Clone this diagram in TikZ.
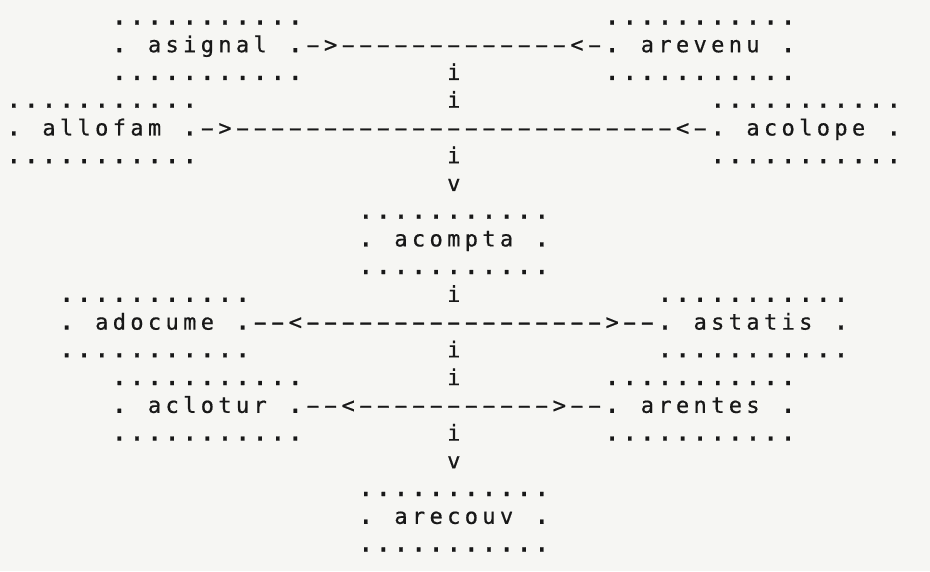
\documentclass[tikz,border=0pt]{standalone}
\usepackage{fontspec}
\usepackage{graphicx}
\newfontfamily\typewr[FakeBold=0.6]{DejaVu Sans Mono}
\definecolor{paper}{RGB}{246,246,243}
\definecolor{ink}{RGB}{24,24,24}
\newlength\cw \setlength\cw{17.6pt}
\makeatletter
\def\gr@end{GR@END}
\def\gr#1{\gr@#1\gr@end}
\def\gr@#1{\ifx#1\gr@end\expandafter\@gobble\else\expandafter\@firstofone\fi{\gr@cell{#1}\gr@}}
\def\gr@cell#1{\makebox[\cw]{%
  \ifx_#1\else
  \ifx-#1\makebox[0pt]{\scalebox{1.9}[1]{-}}\else
  \ifx.#1\scalebox{1.25}{.}\else
  #1\fi\fi\fi}}
\makeatother
\newcommand\bx[1]{\vbox{\baselineskip=27.74pt\lineskiplimit=-100pt
  \hbox{\gr{...........}}\hbox{\gr{._#1_.}}\hbox{\gr{...........}}}}
\tikzset{
  tw/.style={inner sep=0pt, outer sep=0pt, anchor=base west,
    font=\typewr\fontsize{22}{22}\selectfont, text=ink},
}
\begin{document}
\begin{tikzpicture}[x=1pt,y=-1pt]
\fill[paper] (0,0) rectangle (930,571);
\useasboundingbox (0,0) rectangle (930,571);
% boxes (anchored at baseline of bottom dot row)
\node[tw] (asignal) at ({5+17.6*6},{24.5+27.74*2}) {\bx{asignal}};
\node[tw] (arevenu) at ({5+17.6*34},{24.5+27.74*2}) {\bx{arevenu}};
\node[tw] (allofam) at ({5+17.6*0},{24.5+27.74*5}) {\bx{allofam}};
\node[tw] (acolope) at ({5+17.6*40},{24.5+27.74*5}) {\bx{acolope}};
\node[tw] (acompta) at ({5+17.6*20},{24.5+27.74*9}) {\bx{acompta}};
\node[tw] (adocume) at ({5+17.6*3},{24.5+27.74*12}) {\bx{adocume}};
\node[tw] (astatis) at ({5+17.6*37},{24.5+27.74*12}) {\bx{astatis}};
\node[tw] (aclotur) at ({5+17.6*6},{24.5+27.74*15}) {\bx{aclotur}};
\node[tw] (arentes) at ({5+17.6*34},{24.5+27.74*15}) {\bx{arentes}};
\node[tw] (arecouv) at ({5+17.6*20},{24.5+27.74*19}) {\bx{arecouv}};
% horizontal connectors
\node[tw] (c1) at ({5+17.6*17},{24.5+27.74*1}) {\gr{->-------------<-}};
\node[tw] (c2) at ({5+17.6*11},{24.5+27.74*4}) {\gr{->-------------------------<-}};
\node[tw] (c3) at ({5+17.6*14},{24.5+27.74*11}) {\gr{--<----------------->--}};
\node[tw] (c4) at ({5+17.6*17},{24.5+27.74*14}) {\gr{--<----------->--}};
% vertical connectors
\node[tw] (v1) at ({5+17.6*25},{24.5+27.74*2}) {\gr{i}};
\node[tw] (v2) at ({5+17.6*25},{24.5+27.74*3}) {\gr{i}};
\node[tw] (v3) at ({5+17.6*25},{24.5+27.74*5}) {\gr{i}};
\node[tw] (v4) at ({5+17.6*25},{24.5+27.74*6}) {\gr{v}};
\node[tw] (v5) at ({5+17.6*25},{24.5+27.74*10}) {\gr{i}};
\node[tw] (v6) at ({5+17.6*25},{24.5+27.74*12}) {\gr{i}};
\node[tw] (v7) at ({5+17.6*25},{24.5+27.74*13}) {\gr{i}};
\node[tw] (v8) at ({5+17.6*25},{24.5+27.74*15}) {\gr{i}};
\node[tw] (v9) at ({5+17.6*25},{24.5+27.74*16}) {\gr{v}};
\end{tikzpicture}
\end{document}
